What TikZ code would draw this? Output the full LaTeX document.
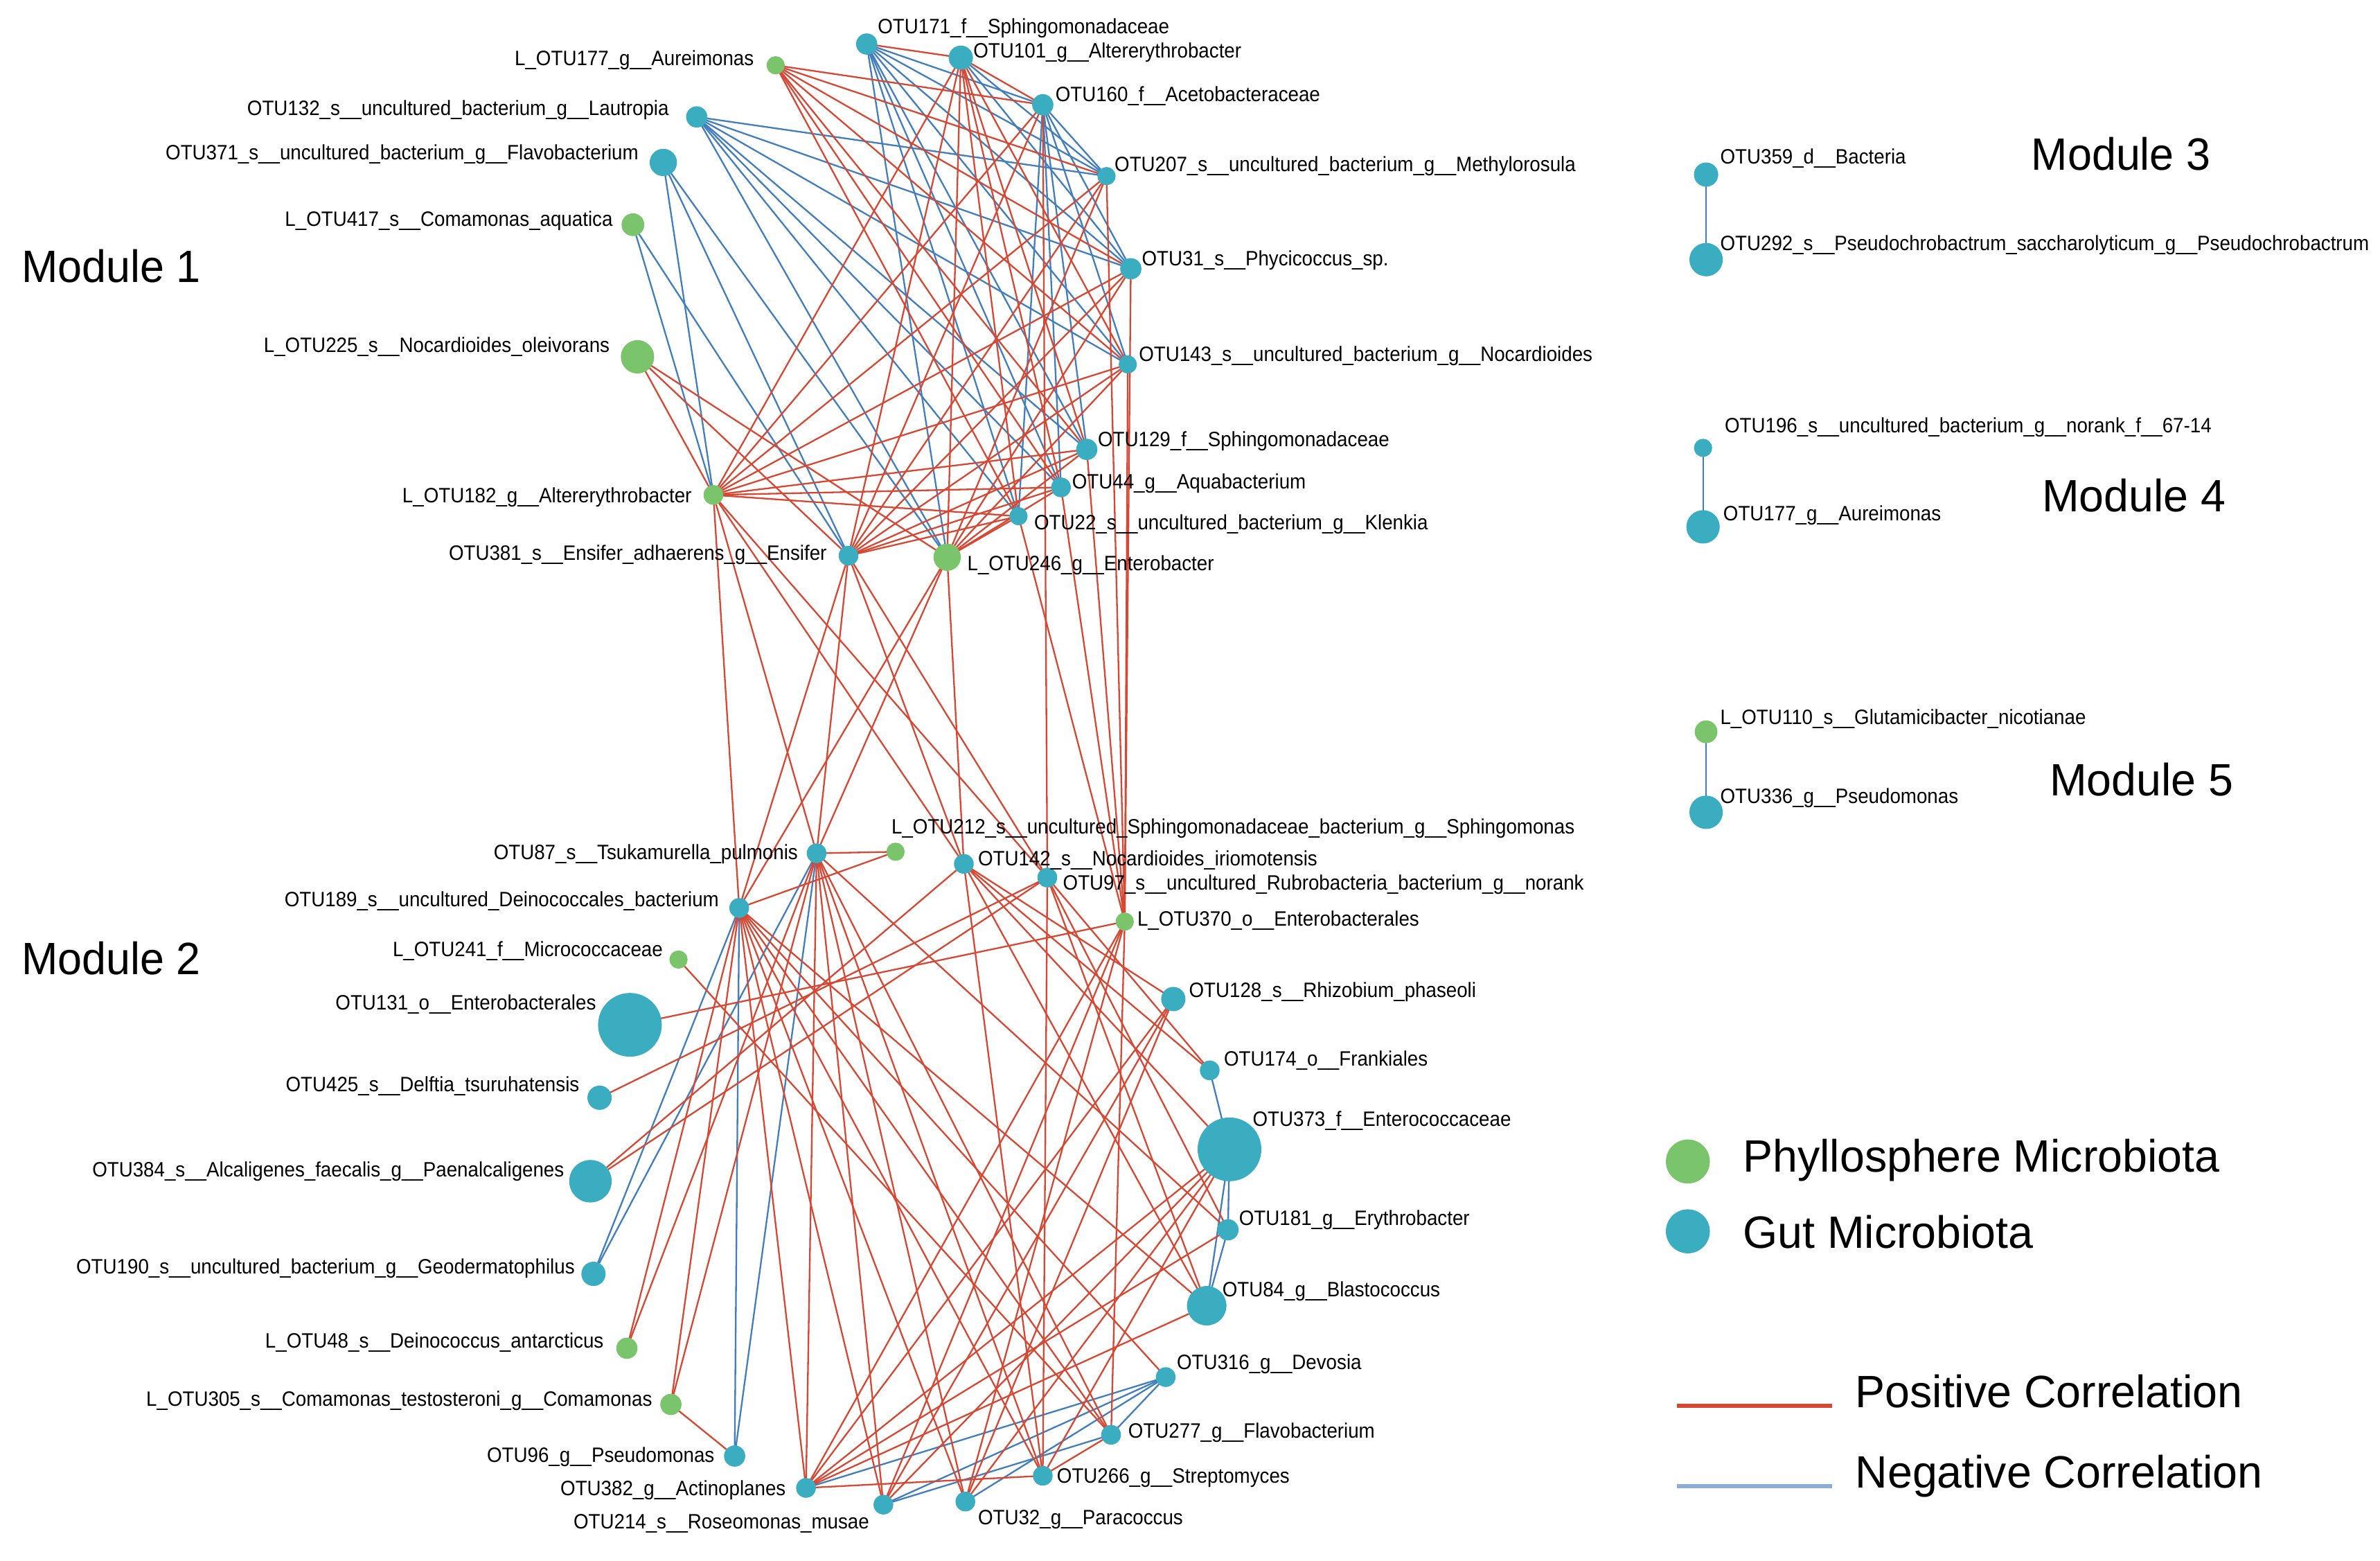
\documentclass[tikz,border=0pt]{standalone}
\usepackage{fontspec}
\setmainfont{Liberation Sans}
\usepackage{graphicx}
\pgfdeclarelayer{edges}
\pgfsetlayers{edges,main}
\definecolor{gr}{RGB}{122,196,108}
\definecolor{bl}{RGB}{58,174,192}
\definecolor{pos}{RGB}{214,72,52}
\definecolor{neg}{RGB}{66,126,190}
\definecolor{negleg}{RGB}{138,172,214}
\tikzset{
 G/.style={circle,fill=gr,inner sep=0pt},
 B/.style={circle,fill=bl,inner sep=0pt},
 lbl/.style={inner sep=0pt,font=\fontsize{7.8}{9}\selectfont},
 big/.style={inner sep=0pt,font=\fontsize{17}{20}\selectfont},
 posE/.style={draw=pos,line width=0.6pt},
 negE/.style={draw=neg,line width=0.6pt},
}
\newcommand\nd[5]{\node[#1,minimum size=#5*0.04cm] (#2) at (#3,#4) {};}
\newcommand\labW[4]{\node[lbl,anchor=base west] (#1) at (#2,#3) {\scalebox{0.923}[1]{#4}};}
\newcommand\labE[4]{\node[lbl,anchor=base east] (#1) at (#2,#3) {\scalebox{0.923}[1]{#4}};}
\newcommand\bigW[4]{\node[big,anchor=base west] (#1) at (#2,#3) {\scalebox{0.96}[1]{#4}};}
\newcommand\legW[4]{\node[big,anchor=base west] (#1) at (#2,#3) {\scalebox{0.985}[1]{#4}};}
\begin{document}
\begin{tikzpicture}[x=0.02cm,y=-0.02cm]
\useasboundingbox (0,0) rectangle (1568,1028);
% ---------------- Module 1 nodes
\nd{G}{a177}{511}{43}{6}
\nd{B}{a171}{571}{29}{7}
\nd{B}{a101}{633}{38}{8}
\nd{B}{a160}{687}{69}{7}
\nd{B}{a132}{459}{77}{7}
\nd{B}{a371}{437}{107}{9}
\nd{B}{a207}{729}{116}{6}
\nd{G}{a417}{417}{148}{7.5}
\nd{B}{a31}{745}{177}{7}
\nd{G}{a225}{420}{235}{11}
\nd{B}{a143}{743}{240}{6}
\nd{B}{a129}{716}{296}{7}
\nd{G}{a182}{470}{326}{6.5}
\nd{B}{a44}{699}{321}{6.5}
\nd{B}{a22}{671}{340}{6}
\nd{B}{a381}{559}{366}{6.5}
\nd{G}{a246}{624}{367}{9}
% ---------------- Module 2 nodes
\nd{B}{b87}{538}{562}{6.5}
\nd{G}{b212}{590}{561}{6}
\nd{B}{b142}{635}{569}{6.5}
\nd{B}{b97}{690}{578}{6.5}
\nd{B}{b189}{487}{598}{6.5}
\nd{G}{b370}{741}{607}{6}
\nd{G}{b241}{447}{632}{6}
\nd{B}{b131}{415}{675}{21}
\nd{B}{b128}{773}{658}{8}
\nd{B}{b174}{797}{705}{6.5}
\nd{B}{b425}{395}{723}{8}
\nd{B}{b373}{810}{757}{21}
\nd{B}{b384}{389}{778}{14}
\nd{B}{b181}{809}{810}{7}
\nd{B}{b190}{391}{839}{8}
\nd{B}{b84}{795}{860}{13}
\nd{G}{b48}{413}{888}{7}
\nd{B}{b316}{768}{907}{6.5}
\nd{G}{b305}{442}{925}{7}
\nd{B}{b277}{732}{945}{6.5}
\nd{B}{b96}{484}{959}{7}
\nd{B}{b266}{687}{972}{6.5}
\nd{B}{b382}{531}{980}{6.5}
\nd{B}{b32}{636}{989}{6.5}
\nd{B}{b214}{582}{991}{6.5}
% ---------------- Modules 3-5 nodes
\nd{B}{c359}{1124}{115}{8}
\nd{B}{c292}{1124}{171}{11}
\nd{B}{d196}{1122}{295}{6}
\nd{B}{d177}{1122}{347}{11}
\nd{G}{e110}{1124}{482}{7.5}
\nd{B}{e336}{1124}{535}{11}
% ---------------- edges
\begin{pgfonlayer}{edges}
\foreach \s/\t in {a171/a160,a171/a207,a171/a31,a171/a143,a171/a129,a171/a44,a171/a22,a171/a246,
 a132/a207,a132/a31,a132/a143,a132/a129,a132/a44,a132/a22,a132/a246,
 a371/a182,a371/a381,a371/a246,a417/a182,a417/a381,
 a160/a207,a160/a31,a160/a143,a160/a129,a160/a44,a160/a22,a101/a207,a101/a31,
 b87/b190,b189/b190,b87/b96,b189/b96,
 b174/b373,b373/b181,b373/b84,b181/b84,
 b316/b382,b316/b214,b316/b32,b316/b277,b277/b214,
 c359/c292,d196/d177,e110/e336}
 \draw[negE] (\s.center) -- (\t.center);
\foreach \s/\t in {a171/a101,
 a177/a160,a177/a207,a177/a31,a177/a143,a177/a129,a177/a44,a177/a22,
 a225/a182,a225/a381,a225/a246,
 a182/a101,a182/a160,a182/a207,a182/a31,a182/a143,a182/a129,a182/a44,a182/a22,
 a381/a101,a381/a160,a381/a207,a381/a31,a381/a143,a381/a129,a381/a44,a381/a22,
 a246/a101,a246/a207,a246/a31,a246/a143,a246/a129,a246/a44,a246/a22,
 a101/a160,a101/a143,a101/a129,a101/a44,a101/a22,
 a182/b189,a182/b87,a182/b142,a182/b97,
 a381/b189,a381/b87,a381/b142,a381/b97,
 a246/b189,a246/b87,a246/b142,
 a160/b97,a22/b370,a44/b370,a129/b370,a207/b370,a31/b370,a143/b370,
 b87/b212,b189/b212,b87/b382,b189/b382,
 b87/b48,b189/b48,b87/b305,b189/b305,b305/b96,
 b131/b370,b241/b277,b425/b97,
 b142/b384,b97/b384,b142/b266,b97/b266,
 b142/b174,b97/b174,b142/b128,
 b142/b84,b97/b84,b189/b84,b87/b181,b97/b181,
 b370/b382,b370/b214,b370/b32,b370/b277,
 b189/b32,b189/b266,b189/b277,b189/b214,b189/b316,
 b87/b214,b87/b32,b87/b266,b87/b277,
 b382/b128,b382/b373,b382/b181,b382/b84,b382/b266,
 b214/b128,b214/b373,b32/b128,b32/b373,
 b266/b373,b266/b277,b142/b373}
 \draw[posE] (\s.center) -- (\t.center);
\end{pgfonlayer}
% ---------------- labels module 1
\labE{t177L}{497}{43}{L\_OTU177\_g\_\_Aureimonas}
\labW{t171}{578}{22}{OTU171\_f\_\_Sphingomonadaceae}
\labW{t101}{641}{38}{OTU101\_g\_\_Altererythrobacter}
\labW{t160}{695}{67}{OTU160\_f\_\_Acetobacteraceae}
\labE{t132}{441}{76}{OTU132\_s\_\_uncultured\_bacterium\_g\_\_Lautropia}
\labE{t371}{421}{105}{OTU371\_s\_\_uncultured\_bacterium\_g\_\_Flavobacterium}
\labW{t207}{734}{113}{OTU207\_s\_\_uncultured\_bacterium\_g\_\_Methylorosula}
\labE{t417}{404}{149}{L\_OTU417\_s\_\_Comamonas\_aquatica}
\labW{t31}{752}{175}{OTU31\_s\_\_Phycicoccus\_sp.}
\labE{t225}{402}{232}{L\_OTU225\_s\_\_Nocardioides\_oleivorans}
\labW{t143}{750}{238}{OTU143\_s\_\_uncultured\_bacterium\_g\_\_Nocardioides}
\labW{t129}{723}{294}{OTU129\_f\_\_Sphingomonadaceae}
\labE{t182}{456}{331}{L\_OTU182\_g\_\_Altererythrobacter}
\labW{t44}{706}{322}{OTU44\_g\_\_Aquabacterium}
\labW{t22}{681}{349}{OTU22\_s\_\_uncultured\_bacterium\_g\_\_Klenkia}
\labE{t381}{545}{369}{OTU381\_s\_\_Ensifer\_adhaerens\_g\_\_Ensifer}
\labW{t246}{637}{376}{L\_OTU246\_g\_\_Enterobacter}
% ---------------- labels module 2
\labE{t87}{526}{566}{OTU87\_s\_\_Tsukamurella\_pulmonis}
\labW{t212}{587}{549}{L\_OTU212\_s\_\_uncultured\_Sphingomonadaceae\_bacterium\_g\_\_Sphingomonas}
\labW{t142}{644}{570}{OTU142\_s\_\_Nocardioides\_iriomotensis}
\labW{t97}{700}{586}{OTU97\_s\_\_uncultured\_Rubrobacteria\_bacterium\_g\_\_norank}
\labE{t189}{474}{597}{OTU189\_s\_\_uncultured\_Deinococcales\_bacterium}
\labW{t370}{749}{610}{L\_OTU370\_o\_\_Enterobacterales}
\labE{t241}{437}{630}{L\_OTU241\_f\_\_Micrococcaceae}
\labE{t131}{393}{665}{OTU131\_o\_\_Enterobacterales}
\labW{t128}{783}{657}{OTU128\_s\_\_Rhizobium\_phaseoli}
\labW{t174}{806}{702}{OTU174\_o\_\_Frankiales}
\labE{t425}{382}{719}{OTU425\_s\_\_Delftia\_tsuruhatensis}
\labW{t373}{825}{742}{OTU373\_f\_\_Enterococcaceae}
\labE{t384}{372}{775}{OTU384\_s\_\_Alcaligenes\_faecalis\_g\_\_Paenalcaligenes}
\labW{t181}{816}{807}{OTU181\_g\_\_Erythrobacter}
\labE{t190}{379}{839}{OTU190\_s\_\_uncultured\_bacterium\_g\_\_Geodermatophilus}
\labW{t84}{805}{854}{OTU84\_g\_\_Blastococcus}
\labE{t48}{398}{888}{L\_OTU48\_s\_\_Deinococcus\_antarcticus}
\labW{t316}{775}{902}{OTU316\_g\_\_Devosia}
\labE{t305}{430}{926}{L\_OTU305\_s\_\_Comamonas\_testosteroni\_g\_\_Comamonas}
\labW{t277}{743}{947}{OTU277\_g\_\_Flavobacterium}
\labE{t96}{471}{963}{OTU96\_g\_\_Pseudomonas}
\labW{t266}{696}{977}{OTU266\_g\_\_Streptomyces}
\labE{t382}{518}{985}{OTU382\_g\_\_Actinoplanes}
\labE{t214}{573}{1007}{OTU214\_s\_\_Roseomonas\_musae}
\labW{t32}{644}{1004}{OTU32\_g\_\_Paracoccus}
% ---------------- labels modules 3-5
\labW{t359}{1133}{108}{OTU359\_d\_\_Bacteria}
\labW{t292}{1133}{165}{OTU292\_s\_\_Pseudochrobactrum\_saccharolyticum\_g\_\_Pseudochrobactrum}
\labW{t196}{1136}{285}{OTU196\_s\_\_uncultured\_bacterium\_g\_\_norank\_f\_\_67-14}
\labW{t177}{1135}{343}{OTU177\_g\_\_Aureimonas}
\labW{t110}{1133}{477}{L\_OTU110\_s\_\_Glutamicibacter\_nicotianae}
\labW{t336}{1133}{529}{OTU336\_g\_\_Pseudomonas}
% ---------------- module titles
\bigW{m1}{14}{186}{Module 1}
\bigW{m2}{14}{642}{Module 2}
\bigW{m3}{1338}{112}{Module 3}
\legW{m4}{1345}{337}{Module 4}
\legW{m5}{1350}{524}{Module 5}
% ---------------- legend
\nd{G}{lgG}{1112}{765}{14.5}
\nd{B}{lgB}{1112}{811}{14.5}
\legW{lgT1}{1148}{772}{Phyllosphere Microbiota}
\legW{lgT2}{1148}{822}{Gut Microbiota}
\coordinate (pl1) at (1105,926);
\coordinate (pl2) at (1207,926);
\coordinate (nl1) at (1105,979);
\coordinate (nl2) at (1207,979);
\draw[draw=pos,line width=1.7pt] (pl1) -- (pl2);
\draw[draw=negleg,line width=1.5pt] (nl1) -- (nl2);
\legW{lgT3}{1222}{927}{Positive Correlation}
\legW{lgT4}{1222}{980}{Negative Correlation}
\end{tikzpicture}
\end{document}
